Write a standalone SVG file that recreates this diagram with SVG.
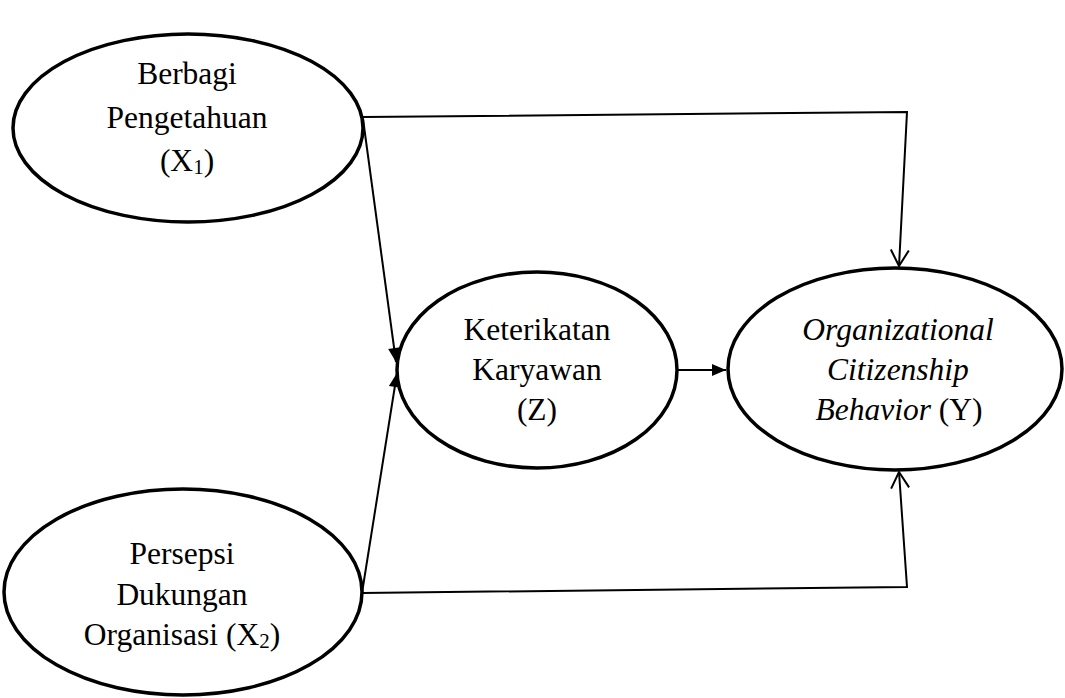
<svg xmlns="http://www.w3.org/2000/svg" width="1065" height="698" viewBox="0 0 1065 698">
<style>
.node ellipse{fill:#fff;stroke:#000;stroke-width:3.5}
.node text{font-family:"Liberation Serif","Times New Roman",serif;font-size:31.5px;fill:#000;text-anchor:middle}
.sub{font-size:21px}
.it{font-style:italic}
.conn path{fill:none;stroke:#000;stroke-width:2}
</style>
<defs>
<marker id="filled" markerUnits="userSpaceOnUse" markerWidth="15" markerHeight="13" refX="14" refY="6" orient="auto" overflow="visible">
<path d="M0,0 L14,6 L0,12 z" fill="#000"/>
</marker>
<marker id="open" markerUnits="userSpaceOnUse" markerWidth="18" markerHeight="20" refX="16" refY="9" orient="auto" overflow="visible">
<path d="M0,0 L16,9 L0,18" fill="none" stroke="#000" stroke-width="2"/>
</marker>
</defs>
<g class="conn">
<path d="M363,117 L907,112 L899,266" marker-end="url(#open)"/>
<path d="M363,119 L396,362" marker-end="url(#filled)"/>
<path d="M362,593 L397,373" marker-end="url(#filled)"/>
<path d="M362,593 L907,587 L899,472" marker-end="url(#open)"/>
<path d="M677,370 L726,370" marker-end="url(#filled)"/>
</g>
<g class="node" id="x1">
<ellipse cx="188" cy="128" rx="175" ry="94"/>
<text x="187" y="84">Berbagi</text>
<text x="187" y="128">Pengetahuan</text>
<text x="187" y="171">(X<tspan class="sub" dy="3">1</tspan><tspan dy="-3">)</tspan></text>
</g>
<g class="node" id="x2">
<ellipse cx="183" cy="592" rx="179" ry="103"/>
<text x="182" y="564">Persepsi</text>
<text x="182" y="605">Dukungan</text>
<text x="182" y="645">Organisasi (X<tspan class="sub" dy="3">2</tspan><tspan dy="-3">)</tspan></text>
</g>
<g class="node" id="z">
<ellipse cx="537" cy="370" rx="140" ry="98"/>
<text x="537" y="340">Keterikatan</text>
<text x="537" y="380">Karyawan</text>
<text x="537" y="420">(Z)</text>
</g>
<g class="node" id="y">
<ellipse cx="895" cy="369" rx="167" ry="101"/>
<text x="898" y="340" class="it">Organizational</text>
<text x="898" y="380" class="it">Citizenship</text>
<text x="899" y="420"><tspan class="it">Behavior</tspan> (Y)</text>
</g>
</svg>
